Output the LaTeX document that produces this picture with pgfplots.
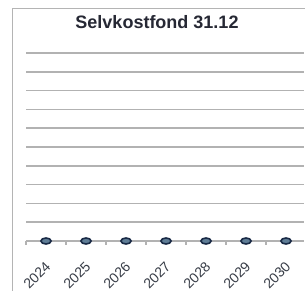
\documentclass[border=0pt]{standalone}
\usepackage{pgfplots}
\pgfplotsset{compat=1.18}
\usepackage{fontspec}
\setmainfont{Liberation Sans}
\definecolor{gridgrey}{RGB}{178,178,178}
\definecolor{framegrey}{RGB}{180,180,180}
\definecolor{labelgrey}{RGB}{55,60,70}
\definecolor{titlecol}{RGB}{38,40,52}
\definecolor{markdraw}{RGB}{25,42,70}
\definecolor{markfill}{RGB}{95,125,150}
\begin{document}
\begin{tikzpicture}
\useasboundingbox (0pt,0pt) rectangle (305pt,291pt);
\draw[overlay, framegrey, line width=1.6pt] (12.5pt,-2pt) -- (12.5pt,282.5pt) -- (308pt,282.5pt);
\node[font=\bfseries\fontsize{18}{20}\selectfont, text=titlecol] at (157pt,269pt) {Selvkostfond 31.12};
\begin{axis}[
  at={(26pt,50pt)}, anchor=south west,
  scale only axis, width=278pt, height=188pt,
  xmin=-0.5, xmax=6.45, ymin=0, ymax=10,
  axis line style={draw=none},
  ytick={0,...,10}, yticklabels={},
  ymajorgrids, major grid style={gridgrey, line width=1.6pt},
  y tick style={draw=none},
  xtick={0,...,6},
  xticklabels={2024,2025,2026,2027,2028,2029,2030},
  major x tick style={draw=none},
  minor xtick={-0.5,0.5,...,5.5},
  minor x tick style={gridgrey, line width=1.2pt},
  minor tick length=4pt,
  tick align=outside,
  xtick pos=bottom, ytick pos=left,
  xticklabel style={rotate=45, anchor=east, font=\fontsize{14}{15}\selectfont, text=labelgrey, xshift=-12pt, yshift=-15pt, inner sep=0pt},
  clip=false,
]
\addplot[only marks, mark=*, mark size=3pt,
  mark options={xscale=1.7, draw=markdraw, fill=markfill, line width=1.6pt}]
  coordinates {(0,0) (1,0) (2,0) (3,0) (4,0) (5,0) (6,0)};
\end{axis}
\end{tikzpicture}
\end{document}
